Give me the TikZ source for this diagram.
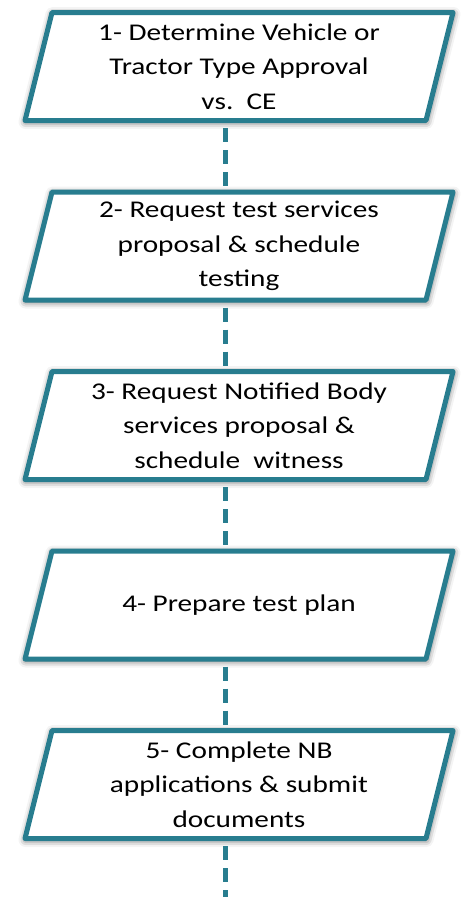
\documentclass[tikz,border=0pt]{standalone}
\usepackage{fontspec}
\setmainfont[FakeStretch=1.22]{Carlito}
\usetikzlibrary{positioning,backgrounds,shadows.blur}
\definecolor{stepteal}{RGB}{40,125,143}
\newcommand{\stepslant}{13.5pt}
\tikzset{
    stepbox/.style ={rectangle, minimum width=401pt, minimum height=108pt, inner sep=0pt,
        outer sep=0pt, align=center, font=\fontsize{24}{34.5}\selectfont},
    stepframe/.style ={draw=stepteal, line width=5pt, line join=round, fill=white,
        blur shadow={shadow xshift=0.5pt, shadow yshift=-1.5pt,
            shadow blur radius=7pt, shadow opacity=70}},
    link/.style = {draw=stepteal, line width=5pt, dash pattern=on 14pt off 8pt, dash phase=14.5pt}
}

\begin{document}
\begin{tikzpicture}

    \useasboundingbox (0,0) rectangle (464pt,-897pt);

    % Steps
    \node[stepbox] (b1) at (239pt,-66.5pt) {1- Determine Vehicle or\\Tractor Type Approval\\vs.\ \ CE};
    \node[stepbox, below=71.5pt of b1] (b2) {2- Request test services\\proposal \& schedule\\testing};
    \node[stepbox, below=71.5pt of b2] (b3) {3- Request Notified Body\\services proposal \&\\schedule\ \ witness};
    \node[stepbox, below=71.5pt of b3] (b4) {4- Prepare test plan};
    \node[stepbox, below=71.5pt of b4] (b5) {5- Complete NB\\applications \& submit\\documents};
    \coordinate (tail) at (225.5pt,-897pt);

    % Slanted frames behind the text
    \begin{scope}[on background layer]
        \foreach \b in {b1,b2,b3,b4,b5}
            \draw[stepframe] ([xshift=-\stepslant]\b.south west) -- ([xshift=\stepslant]\b.north west)
                -- ([xshift=\stepslant]\b.north east) -- ([xshift=-\stepslant]\b.south east) -- cycle;
    \end{scope}

    % Links
    \draw[link] ([xshift=-\stepslant]b1.south) -- ([xshift=-\stepslant]b2.north);
    \draw[link] ([xshift=-\stepslant]b2.south) -- ([xshift=-\stepslant]b3.north);
    \draw[link] ([xshift=-\stepslant]b3.south) -- ([xshift=-\stepslant]b4.north);
    \draw[link] ([xshift=-\stepslant]b4.south) -- ([xshift=-\stepslant]b5.north);
    \draw[link] ([xshift=-\stepslant]b5.south) -- (tail);

\end{tikzpicture}
\end{document}
